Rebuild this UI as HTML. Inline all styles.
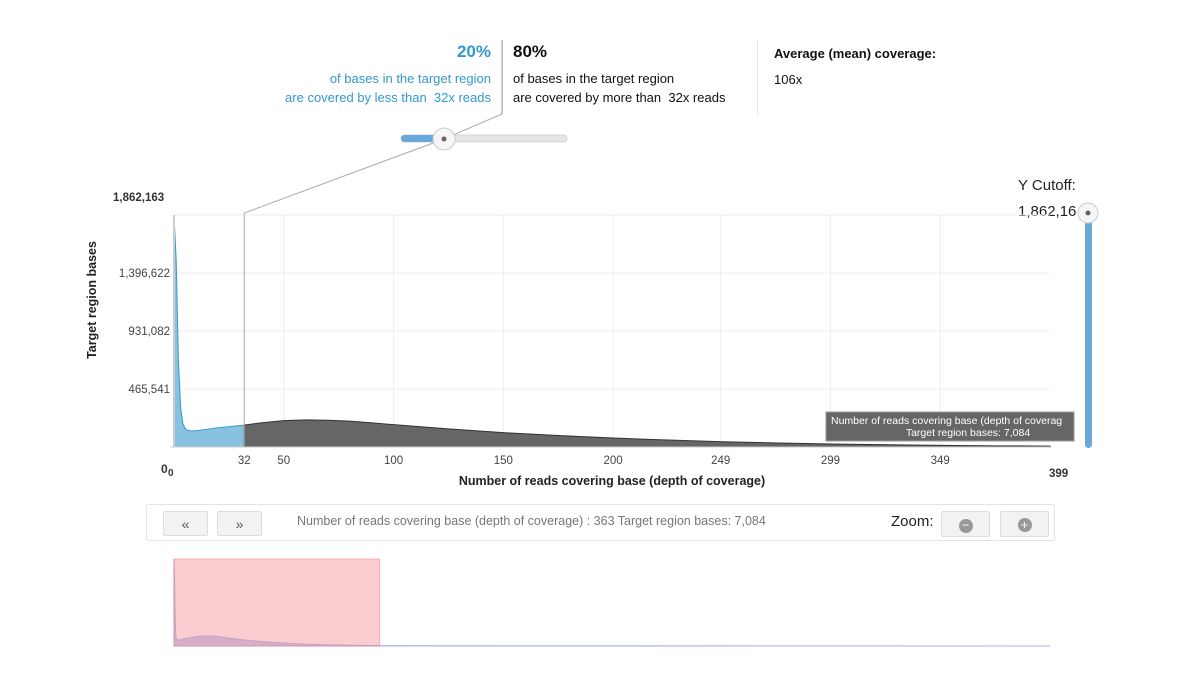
<!DOCTYPE html>
<html><head><meta charset="utf-8">
<style>
body{margin:0;width:1200px;height:683px;background:#fff;font-family:"Liberation Sans",Arial,sans-serif;position:relative;overflow:hidden}
.abs{position:absolute}
.btn{position:absolute;background:#f2f2f2;border:1px solid #ddd;border-radius:2px;box-sizing:border-box;text-align:center;color:#555;font-size:14px;line-height:24px}
</style></head><body>
<div class="abs" style="left:260px;top:42px;width:231px;text-align:right;color:#3399cc">
<div style="font-size:17px;font-weight:bold">20%</div>
<div style="font-size:13px;margin-top:7px;line-height:19px">of bases in the target region<br>are covered by less than&nbsp; 32x reads</div></div>
<div class="abs" style="left:502px;top:40px;width:1px;height:74px;background:#ccc"></div>
<div class="abs" style="left:513px;top:42px;color:#111">
<div style="font-size:17px;font-weight:bold">80%</div>
<div style="font-size:13px;margin-top:7px;line-height:19px">of bases in the target region<br>are covered by more than&nbsp; 32x reads</div></div>
<div class="abs" style="left:757px;top:40px;width:1px;height:74px;background:#e5e5e5"></div>
<div class="abs" style="left:774px;top:46px;color:#111;font-size:13px">
<div style="font-weight:bold">Average (mean) coverage:</div><div style="margin-top:11px">106x</div></div>
<div class="abs" style="left:1018px;top:173px;font-size:15px;color:#222;line-height:26px">Y Cutoff:<br>1,862,16</div>
<svg class="abs" style="left:0;top:0" width="1200" height="683" id="svg"></svg>
<div class="abs" style="left:146px;top:504px;width:909px;height:37px;border:1px solid #e3e3e3;border-radius:3px;box-sizing:border-box"></div>
<div class="btn" style="left:163px;top:511px;width:45px;height:25px">«</div>
<div class="btn" style="left:217px;top:511px;width:45px;height:25px">»</div>
<div class="abs" style="left:297px;top:514px;font-size:12.5px;color:#777">Number of reads covering base (depth of coverage) : 363 Target region bases: 7,084</div>
<div class="abs" style="left:891px;top:513px;font-size:15px;color:#222">Zoom:</div>
<div class="btn" style="left:941px;top:511px;width:49px;height:26px"><span style="display:inline-block;width:14px;height:14px;border-radius:50%;background:#999;margin-top:6px;color:#fff;font-size:12px;line-height:13px">−</span></div>
<div class="btn" style="left:1000px;top:511px;width:49px;height:26px"><span style="display:inline-block;width:14px;height:14px;border-radius:50%;background:#999;margin-top:6px;color:#fff;font-size:12px;line-height:14px">+</span></div>
<script>
const depths=[0,1,2,3,4,5,6,8,10,14,20,26,32,40,50,60,70,80,100,125,150,175,200,225,250,275,300,325,350,375,399];
const counts=[1862163,1500000,700000,320000,190000,150000,135000,128000,130000,140000,155000,165000,176000,195000,212000,218000,215000,208000,180000,145000,115000,92000,72000,56000,42000,32000,24000,18000,13000,9500,7084];
const yTicks=[0,465541,931082,1396622,1862163];
const yTickLabels=["0","465,541","931,082","1,396,622","1,862,163"];
const xTicks=[0,32,50,100,150,200,249,299,349,399];
const cutoff=32;
const navDepthMax=1700;
const NS="http://www.w3.org/2000/svg";
const svg=document.getElementById('svg');
const X0=174,X1=1050,Y0=447,Y1=215;
const xs=d=>X0+(d/399)*(X1-X0);
const ys=v=>Y0-(v/1862163)*(Y0-Y1);
function el(t,a,p){const e=document.createElementNS(NS,t);for(const k in a)e.setAttribute(k,a[k]);(p||svg).appendChild(e);return e;}
yTicks.forEach((v,i)=>{const g=el('line',{x1:X0,x2:X1,y1:ys(v),y2:ys(v),stroke:'#eee'});


if(i>0&&i<4){const t=el('text',{x:170,y:ys(v)+4,'text-anchor':'end','font-size':11.5,fill:'#444'});t.textContent=yTickLabels[i];

}});
xTicks.forEach(d=>{if(d>0&&d<399){const g=el('line',{x1:xs(d),x2:xs(d),y1:Y1,y2:Y0,stroke:'#eee'});


const t=el('text',{x:xs(d),y:464,'text-anchor':'middle','font-size':11.5,fill:'#444'});t.textContent=d;

}});
let t=el('text',{x:113,y:201,'font-size':11.5,'font-weight':'bold',fill:'#333'});t.textContent=yTickLabels[4];
t=el('text',{x:161,y:473,'font-size':12,'font-weight':'bold',fill:'#333'});t.textContent='0';
t=el('text',{x:168,y:476,'font-size':10,'font-weight':'bold',fill:'#333'});t.textContent='0';
t=el('text',{x:1049,y:477,'font-size':11.5,'font-weight':'bold',fill:'#333'});t.textContent='399';
t=el('text',{x:612,y:485,'text-anchor':'middle','font-size':12.5,'font-weight':'bold',fill:'#222'});t.textContent='Number of reads covering base (depth of coverage)';


t=el('text',{x:0,y:0,'font-size':12.5,'font-weight':'bold',fill:'#222',transform:'translate(96,300) rotate(-90)','text-anchor':'middle'});t.textContent='Target region bases';


function interp(d){for(let i=1;i<depths.length;i++)if(d<=depths[i]){const f=(d-depths[i-1])/(depths[i]-depths[i-1]);return counts[i-1]+f*(counts[i]-counts[i-1]);}return counts[counts.length-1];}
function area(a,b,fill,stroke,name){let p='M'+xs(a)+','+Y0;const pts=[a,...depths.filter(d=>d>a&&d<b),b];pts.forEach(d=>p+=' L'+xs(d)+','+ys(interp(d)));p+=' L'+xs(b)+','+Y0+'Z';
const e=el('path',{d:p,fill:fill,stroke:stroke,'stroke-width':1});

}
area(0,cutoff,'#87c3e0','#3399cc','area-below-cutoff');
area(cutoff,399,'#666','#333','area-above-cutoff');
el('line',{x1:X0,x2:X0,y1:Y1,y2:Y0,stroke:'#ccc','stroke-width':2});
el('line',{x1:X0-4,x2:X1,y1:Y0,y2:Y0,stroke:'#ccc'});
const cx=xs(cutoff);
el('polyline',{points:`${cx},${Y0} ${cx},213 444,139 502,114 502,40`,fill:'none',stroke:'#aaa'});
el('rect',{x:401,y:135,width:166,height:7,rx:3.5,fill:'#e6e6e6',stroke:'#d5d5d5'});
el('rect',{x:401,y:135,width:43,height:7,rx:3.5,fill:'#6aa8da'});
let h=el('circle',{cx:444,cy:139,r:11,fill:'#f6f6f6',stroke:'#ccc'});


el('circle',{cx:444,cy:139,r:2.5,fill:'#666'});
el('rect',{x:1085,y:213,width:7,height:235,rx:3.5,fill:'#6aa8da'});
h=el('circle',{cx:1088,cy:213,r:10,fill:'#f6f6f6',stroke:'#ccc'});


el('circle',{cx:1088,cy:213,r:2.5,fill:'#666'});
const tg=el('g',{});


el('rect',{x:826,y:412,width:248,height:29,fill:'#666',stroke:'#999'},tg);
t=el('text',{x:831,y:424,'font-size':10.5,fill:'#fff'},tg);t.textContent='Number of reads covering base (depth of coverag';
t=el('text',{x:968,y:436,'font-size':10.5,fill:'#fff','text-anchor':'middle'},tg);t.textContent='Target region bases: 7,084';
const nxs=d=>X0+(d/navDepthMax)*(X1-X0);
const nys=v=>646-(v/1862163)*87;
let p='M'+nxs(0)+',646';depths.forEach(d=>p+=' L'+nxs(d)+','+nys(interp(d)));p+=' L'+nxs(navDepthMax)+','+nys(0)+' L'+nxs(navDepthMax)+',646Z';
const np=el('path',{d:p,fill:'#c4ccf0',stroke:'#aab4ee'});


const nw=el('rect',{x:nxs(0),y:559,width:nxs(399)-nxs(0),height:87,fill:'rgba(245,130,140,0.4)',stroke:'rgba(240,120,130,0.5)'});


</script>
</body></html>
